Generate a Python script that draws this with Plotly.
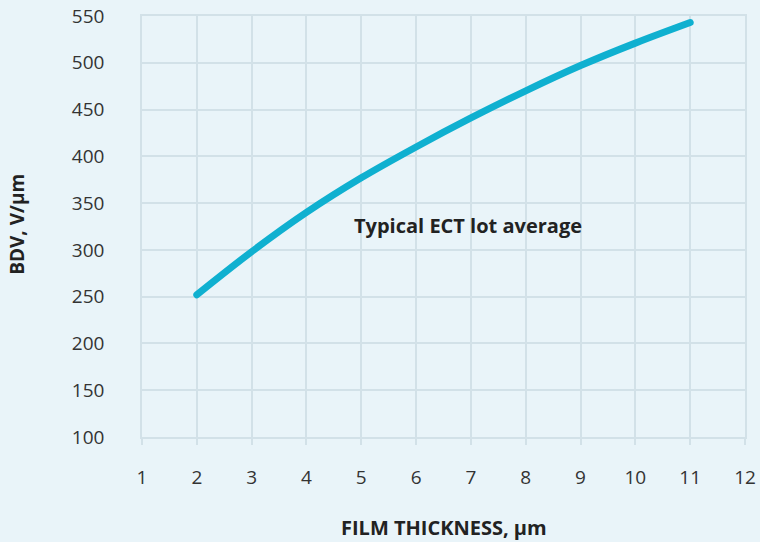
import plotly.graph_objects as go

thickness = [2, 3, 4, 5, 6, 7, 8, 9, 10, 11]
bdv = [252, 298, 340, 377, 410, 441, 470, 497, 521, 543]
x_ticks = [1, 2, 3, 4, 5, 6, 7, 8, 9, 10, 11, 12]
y_ticks = [100, 150, 200, 250, 300, 350, 400, 450, 500, 550]

bg = "#e9f4f9"
grid = "#d2e1e8"
font = "Open Sans"

fig = go.Figure()
fig.add_trace(go.Scatter(x=thickness, y=bdv, mode="lines",
                         line=dict(color="#0fb0d0", width=7, shape="spline"),
                         showlegend=False, hoverinfo="skip"))
fig.add_annotation(x=6.95, y=326, text="<b>Typical ECT lot average</b>", showarrow=False,
                   font=dict(family=font, size=20, color="#222222"))
fig.add_annotation(xref="paper", yref="paper", x=0.5, y=0, yshift=-90, yanchor="middle",
                   text="<b>FILM THICKNESS, µm</b>", showarrow=False,
                   font=dict(family=font, size=20, color="#222222"))
fig.add_annotation(xref="paper", yref="paper", x=0, xshift=-125, y=0.504, xanchor="center",
                   text="<b>BDV, V/µm</b>", textangle=-90, showarrow=False,
                   font=dict(family=font, size=19, color="#222222"))

fig.update_layout(
    width=760, height=542,
    paper_bgcolor=bg, plot_bgcolor=bg,
    margin=dict(l=142, r=15, t=16, b=105),
    font=dict(family=font, size=19, color="#333333"),
    xaxis=dict(range=[1, 12], tickvals=x_ticks, showgrid=True, gridcolor=grid, gridwidth=1.5,
               zeroline=False, showline=True, linecolor=grid, linewidth=1.5, mirror=True,
               automargin=False, ticks="outside", ticklen=6, tickcolor=grid, tickwidth=1.5,
               ticklabelstandoff=16),
    yaxis=dict(range=[100, 550], tickvals=y_ticks, showgrid=True, gridcolor=grid, gridwidth=1.5,
               zeroline=False, showline=True, linecolor=grid, linewidth=1.5, mirror=True,
               automargin=False, ticks="", ticklabelstandoff=32),
)

fig.write_html(
    "out.html",
    config={"displayModeBar": False},
    post_script=(
        "document.body.style.margin='0';document.body.style.background='" + bg + "';"
        "document.querySelectorAll('.scatterlayer path.js-line').forEach(function(p){p.style.strokeLinecap='round';});"
    ),
)
